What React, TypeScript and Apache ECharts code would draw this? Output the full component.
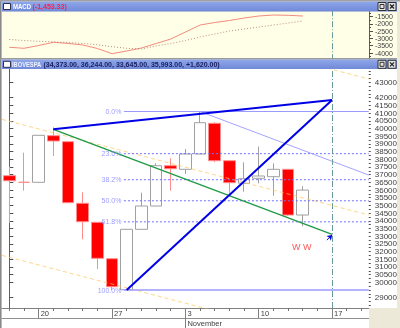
import React, { useEffect, useRef } from "react";
import * as echarts from "echarts";

// ---------- data ----------
const dates = [
  "10-16", "10-17", "10-20", "10-21", "10-22", "10-23", "10-24", "10-27", "10-28", "10-29",
  "10-30", "10-31", "11-03", "11-04", "11-05", "11-06", "11-07", "11-10", "11-11", "11-12",
  "11-13", "11-14", "11-17", "11-18", "11-19",
];
const opens = [36930, 36500, 36500, 39530, 39140, 35135, 33900, 31535, 29520, 33446, 34960, 37580, 37346, 38340, 40335, 37905, 36436, 36760, 36865, 37345, 34373];
const closes = [36600, 36500, 39555, 39185, 35175, 33940, 31560, 29715, 33446, 34960, 37580, 37385, 38340, 40374, 37905, 36475, 36735, 36910, 37345, 34373, 35993];
const lows = [33875, 35955, 36480, 38210, 35150, 32796, 30866, 29500, 29500, 33430, 34950, 35955, 37040, 38330, 37800, 35565, 35890, 36436, 35630, 34330, 33645];
const highs = [37515, 38424, 39570, 40075, 39160, 35850, 33920, 31550, 33460, 35825, 37735, 38060, 38665, 41100, 40400, 37950, 37800, 38815, 37735, 37360, 36244];

const macdLine = [-3607, -3676, -3483, -3263, -3339, -3449, -3690, -4048, -3862, -3656, -3346, -3036, -2554, -2072, -1899, -1762, -1590, -1452, -1383, -1404, -1453];
const signalLine = [-3070, -3139, -3194, -3229, -3277, -3346, -3435, -3566, -3676, -3724, -3518, -3346, -3139, -2898, -2691, -2485, -2347, -2209, -2072, -1934, -1796];

// trend lines: [dateIndex, price]
const blueUpper = [[3, 39945], [22, 41850]];
const blueRise = [[8, 29500], [22, 41850]];
const greenLine = [[3, 39945], [22, 33121]];
const lavenderLine = [[13, 41100], [24.5, 36970]];
const channelUpper = [[-0.5, 40590], [24.5, 34375]];
const channelLower = [[-0.5, 31751], [24.5, 25536]];
const channelTop = [[-0.5, 49429], [24.5, 43214]];
const arrowFrom = [21.64, 32750];
const arrowTo = [22.01, 33075];
const wwPoint = [19.94, 32276];

const fibNames = ["0.0%", "23.6%", "38.2%", "50.0%", "61.8%", "100.0%"];
const fibValues = [41100, 38362, 36669, 35300, 33931, 29500];
const fibStart = 7.81;

const mondayIdx = [2, 7, 12, 17, 22];
const mondayLabels = ["20", "27", "3", "10", "17"];
const monthIdx = 12;
const monthLabel = "November";
const futureLineDate = "11-17";

const mainMin = 28331;
const mainMax = 43864;
const macdMin = -4500;
const macdMax = -1000;
const macdHidden = [-4500, -1000];

const mainTicks: number[] = [];
for (let v = 29000; v <= 43000; v += 500) mainTicks.push(v);
const mainMinor: number[] = [];
for (let v = 28500; v <= 43750; v += 250) mainMinor.push(v);

const FONT = "'Liberation Sans', Arial, sans-serif";

function buildOption() {
  const candleData = opens.map((o, i) => [o, closes[i], lows[i], highs[i]]);

  const trend = (data: number[][], color: string, width: number, type: any, opacity = 1) => ({
    type: "line",
    xAxisIndex: 4,
    yAxisIndex: 1,
    data,
    symbol: "none",
    silent: true,
    z: 3,
    lineStyle: { color, width, type, opacity },
  });

  const fibSeries = fibValues.map((v, i) => {
    const solid = i === 0 || i === fibValues.length - 1;
    return {
      type: "line",
      xAxisIndex: 4,
      yAxisIndex: 1,
      data: [[fibStart, v], [24.5, v]],
      symbol: "none",
      silent: true,
      z: 3,
      lineStyle: {
        color: solid ? "#9a9aff" : "#7070ff",
        width: i === fibValues.length - 1 ? 1.5 : 1,
        type: solid ? "solid" : [2, 2],
      },
    };
  });

  const titleBar = (y: number, h: number) => ({
    type: "rect",
    z: 20,
    shape: { x: 2, y, width: 395, height: h },
    style: {
      fill: {
        type: "linear", x: 0, y: 0, x2: 0, y2: 1,
        colorStops: [
          { offset: 0, color: "#8fa7ea" },
          { offset: 1, color: "#7089d8" },
        ],
      },
    },
  });
  const icon = (y: number) => ({
    type: "rect", z: 21,
    shape: { x: 3.5, y, width: 7, height: 6 },
    style: { fill: "#ffffff", stroke: "#303050", lineWidth: 1 },
  });
  const buttons = (y: number) => [
    { type: "rect", z: 21, shape: { x: 378, y, width: 8, height: 8 }, style: { fill: "#e4e4e4", stroke: "#303030", lineWidth: 1 } },
    { type: "rect", z: 22, shape: { x: 380, y: y + 2, width: 4, height: 4 }, style: { fill: "none", stroke: "#303030", lineWidth: 1 } },
    { type: "rect", z: 21, shape: { x: 388, y, width: 8, height: 8 }, style: { fill: "#e4e4e4", stroke: "#303030", lineWidth: 1 } },
    { type: "line", z: 22, shape: { x1: 390, y1: y + 2, x2: 394, y2: y + 6 }, style: { stroke: "#202020", lineWidth: 1.2 } },
    { type: "line", z: 22, shape: { x1: 394, y1: y + 2, x2: 390, y2: y + 6 }, style: { stroke: "#202020", lineWidth: 1.2 } },
  ];

  return {
    animation: false,
    backgroundColor: "transparent",
    graphic: [
      { type: "rect", z: -10, shape: { x: 0, y: 0, width: 400, height: 328 }, style: { fill: "#ece9d8" } },
      { type: "rect", z: -9, shape: { x: 2, y: 11.5, width: 395, height: 46.5 }, style: { fill: "#ffffe8" } },
      { type: "rect", z: -9, shape: { x: 2, y: 69, width: 395, height: 239 }, style: { fill: "#ffffff" } },
      { type: "rect", z: -9, shape: { x: 2, y: 308, width: 367, height: 20 }, style: { fill: "#ffffff" } },
      { type: "rect", z: 20, shape: { x: 0, y: 0, width: 400, height: 1.5 }, style: { fill: "#a0a0a0" } },
      { type: "rect", z: -8, shape: { x: 0, y: 0, width: 1.5, height: 328 }, style: { fill: "#8a8a8a" } },
      { type: "rect", z: 20, shape: { x: 0, y: 58, width: 397, height: 1.5 }, style: { fill: "#9a9a9a" } },
      titleBar(1.5, 10),
      icon(3.5),
      {
        type: "text", z: 22, x: 13, y: 6.7, scaleX: 0.86,
        style: { text: "MACD", fill: "#ffffff", font: `bold 7px ${FONT}`, verticalAlign: "middle" },
      },
      {
        type: "text", z: 22, x: 32.5, y: 6.7,
        style: { text: "(-1,453.33)", fill: "#ff1f4f", font: `bold 7px ${FONT}`, verticalAlign: "middle" },
      },
      ...buttons(2.5),
      titleBar(59.5, 9.5),
      icon(61.3),
      {
        type: "text", z: 22, x: 12, y: 64.5, scaleX: 0.82,
        style: { text: "IBOVESPA", fill: "#eef2ff", font: `bold 7px ${FONT}`, verticalAlign: "middle" },
      },
      {
        type: "text", z: 22, x: 43.5, y: 64.5,
        style: {
          text: "(34,373.00, 36,244.00, 33,645.00, 35,993.00, +1,620.00)",
          fill: "#1a1f5e", font: `bold 7px ${FONT}`, verticalAlign: "middle",
        },
      },
      ...buttons(60.3),
    ],
    grid: [
      { left: 2, top: 9.44, width: 367, height: 50.82 },
      { left: 2, top: 69, width: 367, height: 239 },
    ],
    xAxis: [
      { type: "category", gridIndex: 0, position: "bottom", data: dates, show: false, boundaryGap: true },
      {
        type: "category", gridIndex: 1, position: "bottom", data: dates, boundaryGap: true,
        axisLine: { show: true, lineStyle: { color: "#808080", width: 1 } },
        axisTick: { show: true, alignWithLabel: true, interval: 0, length: 3, lineStyle: { color: "#707070" } },
        axisLabel: { show: true, interval: 0, formatter: () => "" },
        splitLine: { show: false },
      },
      {
        type: "category", gridIndex: 1, position: "bottom", data: dates, boundaryGap: true,
        axisLine: { show: false },
        axisTick: {
          show: true, alignWithLabel: true, length: 10,
          interval: (i: number) => mondayIdx.includes(i),
          lineStyle: { color: "#808080" },
        },
        axisLabel: {
          show: true, margin: 1.5,
          interval: (i: number) => mondayIdx.includes(i),
          formatter: (_v: string, i: number) => {
            const k = mondayIdx.indexOf(i);
            return k >= 0 ? mondayLabels[k] : "";
          },
          align: "left", verticalAlign: "top", padding: [0, 0, 0, 2],
          fontSize: 7.5, color: "#404040", fontFamily: FONT,
        },
        splitLine: { show: false },
      },
      {
        type: "category", gridIndex: 1, position: "bottom", data: dates, boundaryGap: true, offset: 10,
        axisLine: { show: true, lineStyle: { color: "#909090", width: 1 } },
        axisTick: {
          show: true, alignWithLabel: true, length: 10,
          interval: (i: number) => i === monthIdx,
          lineStyle: { color: "#808080" },
        },
        axisLabel: {
          show: true, margin: 1.5,
          interval: (i: number) => i === monthIdx,
          formatter: (_v: string, i: number) => (i === monthIdx ? monthLabel : ""),
          align: "left", verticalAlign: "top", padding: [0, 0, 0, 2],
          fontSize: 7.5, color: "#404040", fontFamily: FONT,
        },
        splitLine: { show: false },
      },
      { type: "value", gridIndex: 1, position: "bottom", min: -0.5, max: 24.5, show: false },
    ],
    yAxis: [
      {
        type: "value", gridIndex: 0, position: "right", min: macdMin, max: macdMax, interval: 500,
        axisLine: { show: true, lineStyle: { color: "#606060" } },
        axisTick: { show: true, length: 4, lineStyle: { color: "#505050" } },
        minorTick: { show: true, splitNumber: 2, length: 2, lineStyle: { color: "#505050" } },
        axisLabel: {
          show: true, showMinLabel: true, showMaxLabel: true,
          formatter: (v: number) => (macdHidden.includes(v) ? "" : String(v)),
          fontSize: 7, lineHeight: 6, color: "#404040", margin: 6, fontFamily: FONT,
        },
        splitLine: { show: false },
      },
      {
        type: "value", gridIndex: 1, position: "right", min: mainMin, max: mainMax,
        axisLine: { show: true, lineStyle: { color: "#606060" } },
        axisTick: { show: true, length: 4, customValues: mainTicks, lineStyle: { color: "#505050" } },
        axisLabel: {
          show: true, showMinLabel: true, showMaxLabel: true, customValues: mainTicks,
          formatter: (v: number) => String(v),
          fontSize: 8, lineHeight: 7, color: "#404040", margin: 6, fontFamily: FONT,
        },
        splitLine: { show: false },
      },
      {
        type: "value", gridIndex: 1, position: "right", offset: 0, min: mainMin, max: mainMax,
        axisLine: { show: false },
        axisTick: { show: true, length: 2, customValues: mainMinor, lineStyle: { color: "#505050" } },
        axisLabel: { show: false },
        splitLine: { show: false },
      },
    ],
    series: [
      {
        type: "line", xAxisIndex: 0, yAxisIndex: 0, data: macdLine, symbol: "none", silent: true,
        lineStyle: { color: "#f28a7e", width: 1 },
        markLine: {
          silent: true, symbol: "none", label: { show: false },
          lineStyle: { color: "#6a9c9c", width: 1, type: [6, 2, 1, 2] },
          data: [{ xAxis: futureLineDate }],
        },
      },
      {
        type: "line", xAxisIndex: 0, yAxisIndex: 0, data: signalLine, symbol: "none", silent: true,
        lineStyle: { color: "#b88a7a", width: 1, type: [1, 2] },
      },
      {
        type: "candlestick", xAxisIndex: 1, yAxisIndex: 1, data: candleData, barWidth: 12,
        silent: true,
        itemStyle: {
          color: "#ffffff", color0: "#ff0000",
          borderColor: "#a0a0a0", borderColor0: "#ff8c8c", borderWidth: 1,
        },
        markLine: {
          silent: true, symbol: "none", label: { show: false },
          lineStyle: { color: "#6a9c9c", width: 1, type: [6, 2, 1, 2] },
          data: [{ xAxis: futureLineDate }],
        },
      },
      trend(channelUpper, "#ffc860", 1, [4, 3], 0.75),
      trend(channelLower, "#ffc860", 1, [4, 3], 0.75),
      trend(channelTop, "#ffc860", 1, [4, 3], 0.75),
      ...fibSeries,
      trend(lavenderLine, "#a4a4ff", 1, "solid"),
      trend(greenLine, "#1f9a44", 1.3, "solid"),
      trend(blueUpper, "#0000e6", 2, "solid"),
      trend(blueRise, "#0000e6", 2, "solid"),
      {
        type: "scatter", xAxisIndex: 4, yAxisIndex: 1, silent: true, z: 4,
        symbolSize: 1, itemStyle: { color: "transparent" },
        data: fibValues.map((v, i) => ({
          value: [fibStart, v],
          label: {
            show: true, position: "left", distance: 2, formatter: fibNames[i],
            color: "#8585ff", fontSize: 7, fontFamily: FONT,
          },
        })),
      },
      {
        type: "scatter", xAxisIndex: 4, yAxisIndex: 1, silent: true, z: 4,
        symbolSize: 1, itemStyle: { color: "transparent" },
        data: [{
          value: wwPoint,
          label: {
            show: true, position: "inside", formatter: "W W",
            color: "#ff2a2a", fontSize: 9, fontFamily: FONT,
          },
        }],
        markLine: {
          silent: true, symbol: ["none", "arrow"], symbolSize: 5, label: { show: false },
          lineStyle: { color: "#0000e6", width: 1, type: "solid" },
          data: [[{ coord: arrowFrom }, { coord: arrowTo }]],
        },
      },
    ],
  };
}

export default function App() {
  const ref = useRef<HTMLDivElement>(null);
  useEffect(() => {
    if (!ref.current) return;
    const chart = echarts.init(ref.current, null, { renderer: "svg" });
    chart.setOption(buildOption() as any);
    return () => chart.dispose();
  }, []);
  return (
    <div
      ref={ref}
      style={{ position: "fixed", left: 0, top: 0, width: 400, height: 328 }}
    />
  );
}
